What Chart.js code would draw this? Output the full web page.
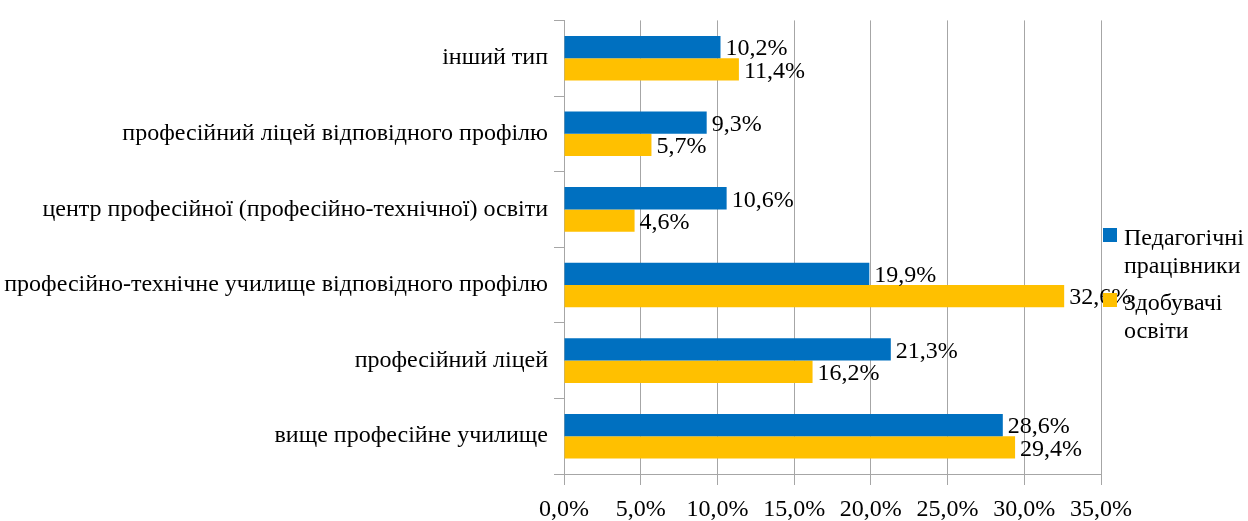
<!DOCTYPE html>
<html lang="uk">
<head>
<meta charset="utf-8">
<title>Типи закладів</title>
<script src="https://cdn.jsdelivr.net/npm/chart.js@4.4.1/dist/chart.umd.min.js"></script>
<style>
  html, body { margin: 0; padding: 0; background: #fff; }
  #wrap { position: relative; width: 1248px; height: 521px; }
  #legend {
    position: absolute; left: 1103px; top: 223px;
    font-family: "Liberation Serif", "Times New Roman", serif;
    font-size: 24px; line-height: 28px; color: #000;
  }
  .item { position: relative; padding-left: 21px; width: 124px; margin-bottom: 9px; }
  .box { position: absolute; left: 0; top: 5px; width: 14px; height: 14px; }
</style>
</head>
<body>
<div id="wrap">
  <canvas id="chart" width="1248" height="521"></canvas>
  <div id="legend"></div>
</div>
<script>
// Дані з діаграми
const categories = [
  'інший тип',
  'професійний ліцей відповідного профілю',
  'центр професійної (професійно-технічної) освіти',
  'професійно-технічне училище відповідного профілю',
  'професійний ліцей',
  'вище професійне училище'
];
const seriesNames = ['Педагогічні працівники', 'Здобувачі освіти'];
const teachers = [10.2, 9.3, 10.6, 19.9, 21.3, 28.6];
const students = [11.4, 5.7, 4.6, 32.6, 16.2, 29.4];
const xTicks = [0, 5, 10, 15, 20, 25, 30, 35];

const FONT = '"Liberation Serif", "Times New Roman", serif';
const colors = ['#0070C0', '#FFC000'];

function pct(v) {
  return Number(v).toFixed(1).replace('.', ',') + '%';
}

// Підписи значень праворуч від стовпчиків
const valueLabels = {
  id: 'valueLabels',
  afterDatasetsDraw(chart) {
    const ctx = chart.ctx;
    ctx.save();
    ctx.font = '24px ' + FONT;
    ctx.fillStyle = '#000';
    ctx.textAlign = 'left';
    ctx.textBaseline = 'middle';
    chart.data.datasets.forEach((ds, i) => {
      const meta = chart.getDatasetMeta(i);
      meta.data.forEach((bar, j) => {
        ctx.fillText(pct(ds.data[j]), bar.x + 5, bar.y + 2);
      });
    });
    ctx.restore();
  }
};

const chart = new Chart(document.getElementById('chart'), {
  type: 'bar',
  data: {
    labels: categories,
    datasets: [
      { label: seriesNames[0], data: teachers, backgroundColor: colors[0] },
      { label: seriesNames[1], data: students, backgroundColor: colors[1] }
    ]
  },
  options: {
    indexAxis: 'y',
    responsive: false,
    animation: false,
    categoryPercentage: 0.59,
    barPercentage: 1.0,
    layout: { padding: { top: 15, right: 147, bottom: 0, left: 0 } },
    plugins: {
      legend: { display: false },
      tooltip: { enabled: false }
    },
    scales: {
      x: {
        min: 0,
        max: 35,
        afterBuildTicks: (scale) => { scale.ticks = xTicks.map(v => ({ value: v })); },
        afterFit: (scale) => { scale.height = 47; },
        ticks: {
          callback: (v) => pct(v),
          font: { family: FONT, size: 24 },
          color: '#000',
          padding: 10,
          maxRotation: 0
        },
        grid: { color: '#A6A6A6', lineWidth: 1, tickLength: 11 },
        border: { color: '#A6A6A6' }
      },
      y: {
        afterFit: (scale) => { scale.width = 564; },
        ticks: {
          font: { family: FONT, size: 24 },
          color: '#000',
          padding: 6
        },
        grid: { drawOnChartArea: false, color: '#A6A6A6', tickLength: 10 },
        border: { color: '#A6A6A6' }
      }
    }
  },
  plugins: [valueLabels]
});

// Легенда праворуч (поверх області графіка, як в оригіналі)
const legendEl = document.getElementById('legend');
chart.data.datasets.forEach((ds) => {
  const item = document.createElement('div');
  item.className = 'item';
  const box = document.createElement('span');
  box.className = 'box';
  box.style.background = ds.backgroundColor;
  item.appendChild(box);
  item.appendChild(document.createTextNode(ds.label));
  legendEl.appendChild(item);
});
</script>
</body>
</html>
